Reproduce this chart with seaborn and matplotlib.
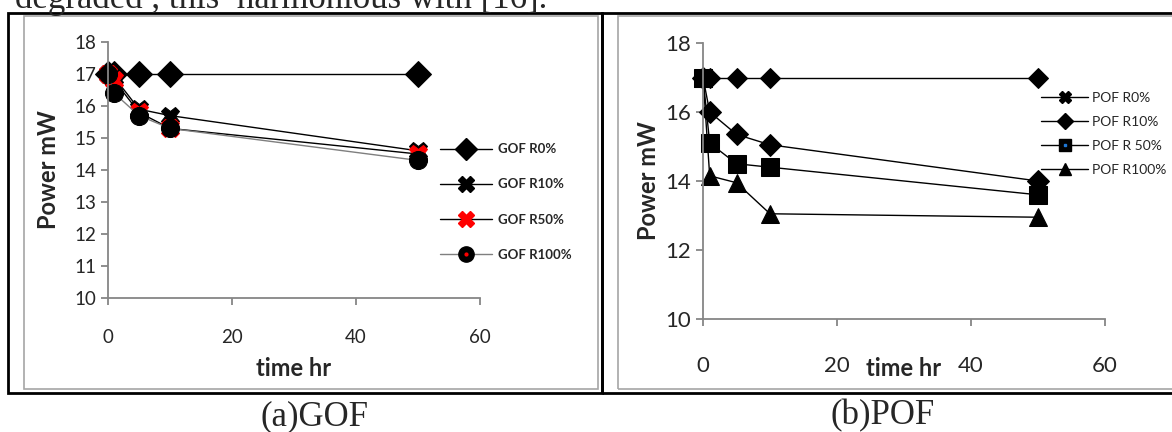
import numpy as np
import pandas as pd
import matplotlib
matplotlib.use("Agg")
import matplotlib.pyplot as plt
from matplotlib.lines import Line2D
from matplotlib.patches import Rectangle
from matplotlib.legend_handler import HandlerTuple
import seaborn as sns

# data
time_hr = [0, 1, 5, 10, 50]

gof_r0 = [17, 17, 17, 17, 17]
gof_r10 = [17, 16.9, 15.9, 15.7, 14.6]
gof_r50 = [17, 16.8, 15.8, 15.3, 14.5]
gof_r100 = [17, 16.4, 15.7, 15.3, 14.3]

pof_r0 = [17, 17, 17, 17, 17]
pof_r10 = [17, 16.0, 15.35, 15.05, 14.0]
pof_r50 = [17, 15.1, 14.5, 14.4, 13.6]
pof_r100 = [17, 14.15, 13.95, 13.05, 12.95]

gof_labels = ["GOF R0%", "GOF R10%", "GOF R50%", "GOF R100%"]
pof_labels = ["POF R0%", "POF R10%", "POF R 50%", "POF R100%"]
x_ticks = [0, 20, 40, 60]

sns.set_style("white")
plt.rcParams["font.family"] = ["Lato", "DejaVu Sans"]

W, H = 1172, 432
fig = plt.figure(figsize=(W / 100, H / 100), dpi=100)


def box(l, t, r, b):
    # pixel box -> figure fractions
    return [l / W, 1 - b / H, (r - l) / W, (b - t) / H]


# panel frames
for l, t, r, b, c, lw in [(24, 16, 598, 389, "#a6a6a6", 1.2),
                          (618, 16, 1185, 389, "#a6a6a6", 1.2),
                          (8, 13, 602, 393, "black", 2.0),
                          (602, 13, 1190, 393, "black", 2.0)]:
    fig.patches.append(Rectangle((l / W, 1 - b / H), (r - l) / W, (b - t) / H,
                                 transform=fig.transFigure, fill=False,
                                 edgecolor=c, linewidth=lw))

AX_GRAY = "#868686"


def style_axes(ax, ylim, yticks, tick_fs):
    ax.set_xlim(0, 60)
    ax.set_ylim(*ylim)
    ax.set_xticks(x_ticks)
    ax.set_yticks(yticks)
    for s in ["top", "right"]:
        ax.spines[s].set_visible(False)
    for s in ["left", "bottom"]:
        ax.spines[s].set_color(AX_GRAY)
        ax.spines[s].set_linewidth(1.3)
    ax.tick_params(direction="out", length=5, width=1.3, color=AX_GRAY,
                   labelsize=tick_fs, left=True, bottom=True)
    ax.set_facecolor("none")


# ---- (a) GOF ----
ax1 = fig.add_axes(box(108, 42, 480, 298))
sns.lineplot(x=time_hr, y=gof_r0, ax=ax1, color="black", lw=1.0, marker="D",
             markersize=13, markeredgecolor="black", clip_on=False)
sns.lineplot(x=time_hr, y=gof_r10, ax=ax1, color="black", lw=1.0, marker="X",
             markersize=13, markeredgecolor="black", clip_on=False)
sns.lineplot(x=time_hr, y=gof_r50, ax=ax1, color="black", lw=1.0, marker="X",
             markersize=13, markerfacecolor="red", markeredgecolor="red", clip_on=False)
sns.lineplot(x=time_hr, y=gof_r100, ax=ax1, color="#7f7f7f", lw=1.0, marker="o",
             markersize=13, markerfacecolor="black", markeredgecolor="black", clip_on=False)
style_axes(ax1, (10, 18), range(10, 19), 13.5)
ax1.tick_params(axis="x", pad=17)
ax1.set_xlabel("time hr", fontsize=17, fontweight="bold", labelpad=8)
ax1.set_ylabel("Power mW", fontsize=17, fontweight="bold", labelpad=10)

h_gof = [Line2D([], [], color="black", lw=1, marker="D", ms=11, mfc="black", mec="black"),
         Line2D([], [], color="black", lw=1, marker="X", ms=11, mfc="black", mec="black"),
         Line2D([], [], color="black", lw=1, marker="X", ms=11, mfc="red", mec="red"),
         (Line2D([], [], color="#7f7f7f", lw=1, marker="o", ms=11, mfc="black", mec="black"),
          Line2D([], [], ls="none", marker="o", ms=2, mfc="red", mec="red"))]
ax1.legend(h_gof, gof_labels, loc="center left", bbox_to_anchor=(433 / W, 1 - 202 / H),
           bbox_transform=fig.transFigure, frameon=False, handlelength=4.0,
           handletextpad=0.4, labelspacing=1.75, borderpad=0,
           prop={"weight": "bold", "size": 9.5},
           handler_map={tuple: HandlerTuple(ndivide=1)})

# ---- (b) POF ----
ax2 = fig.add_axes(box(703, 43, 1105, 319))
sns.lineplot(x=time_hr, y=pof_r0, ax=ax2, color="black", lw=1.0, marker="D",
             markersize=10, markeredgecolor="black", clip_on=False)
sns.lineplot(x=time_hr, y=pof_r10, ax=ax2, color="black", lw=1.0, marker="D",
             markersize=11, markeredgecolor="black", clip_on=False)
sns.lineplot(x=time_hr, y=pof_r50, ax=ax2, color="black", lw=1.0, marker="s",
             markersize=13, markeredgecolor="black", clip_on=False)
sns.lineplot(x=time_hr, y=pof_r100, ax=ax2, color="black", lw=1.0, marker="^",
             markersize=13, markeredgecolor="black", clip_on=False)
style_axes(ax2, (10, 18), [10, 12, 14, 16, 18], 16)
ax2.tick_params(axis="x", pad=22)
ax2.set_xlabel("time hr", fontsize=17, fontweight="bold", labelpad=-14)
ax2.set_ylabel("Power mW", fontsize=17, fontweight="bold", labelpad=4)

h_pof = [Line2D([], [], color="black", lw=1, marker="X", ms=8, mfc="black", mec="black"),
         Line2D([], [], color="black", lw=1, marker="D", ms=8, mfc="black", mec="black"),
         (Line2D([], [], color="black", lw=1, marker="s", ms=9, mfc="black", mec="black"),
          Line2D([], [], ls="none", marker="s", ms=2, mfc="#1f77d4", mec="#1f77d4")),
         Line2D([], [], color="black", lw=1, marker="^", ms=9, mfc="black", mec="black")]
ax2.legend(h_pof, pof_labels, loc="center left", bbox_to_anchor=(1034 / W, 1 - 134 / H),
           bbox_transform=fig.transFigure, frameon=False, handlelength=3.4,
           handletextpad=0.3, labelspacing=0.85, borderpad=0,
           prop={"size": 10}, handler_map={tuple: HandlerTuple(ndivide=1)})

# captions and the cut-off line of body text above
fig.text(314 / W, 1 - 417 / H, "(a)GOF", ha="center", va="center",
         fontsize=25, family="Liberation Serif")
fig.text(883 / W, 1 - 416 / H, "(b)POF", ha="center", va="center",
         fontsize=25, family="Liberation Serif")
fig.text(15 / W, 1 - 8 / H, "degraded , this  harmonious with [16].", ha="left",
         va="baseline", fontsize=25, family="Liberation Serif")

fig.savefig("out.png", dpi=100)
